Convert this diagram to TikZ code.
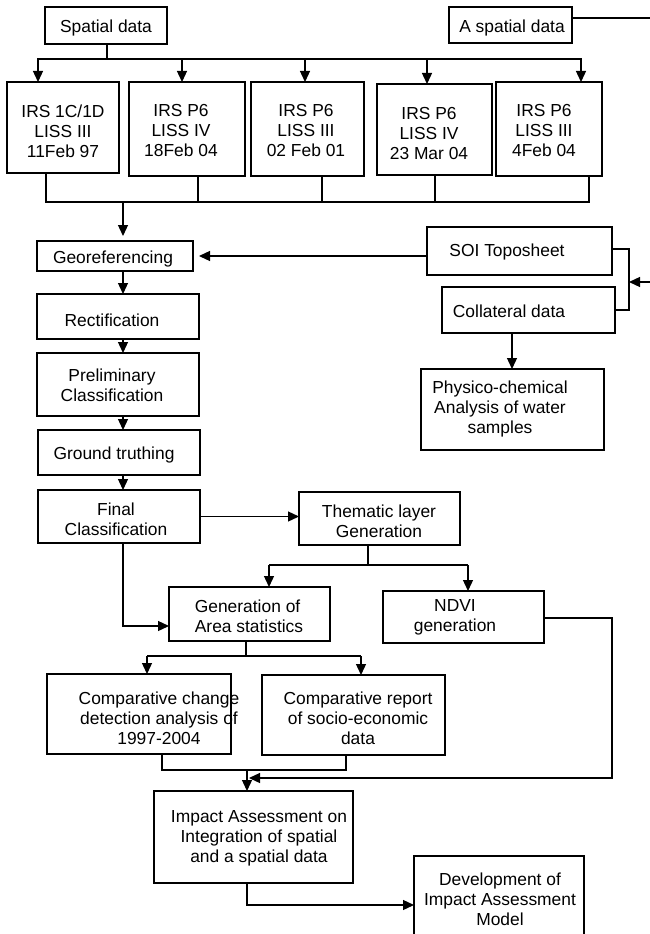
\documentclass[tikz,border=0pt]{standalone}
\usepackage{fontspec}
\setmainfont{Liberation Sans}
\usetikzlibrary{arrows.meta}
\newcommand\mybox[5]{\node[box, minimum width={#4-#2}, minimum height={#5-#3}] (#1) at ({(#2+#4)/2},{(#3+#5)/2}) {};}
\begin{document}
\begin{tikzpicture}[x=1pt,y=-1pt,
  box/.style={draw, line width=1.3pt, inner sep=0pt, outer sep=0pt},
  txt/.style={align=center, font=\fontsize{17.4}{20}\selectfont, inner sep=0pt, yshift=-3pt},
  line/.style={line width=1.3pt},
  arr/.style={line width=1.3pt, -{Triangle[length=11pt,width=10pt]}}]
\useasboundingbox (0,0) rectangle (650,934);
\fill[white] (0,0) rectangle (650,934);
\clip (0,0) rectangle (650,934);
% boxes
\mybox{sp}{45}{7}{167}{44}
\node[txt] (spT) at (sp) {Spatial data};
\mybox{asp}{449}{7}{572}{43}
\node[txt] (aspT) at (512,25) {A spatial data};
\mybox{irs1}{7}{82}{119}{173}
\node[txt] (irs1T) at (63,128) {IRS 1C/1D\\LISS III\\11Feb 97};
\mybox{irs2}{129}{82}{245}{176}
\node[txt] (irs2T) at (181,128) {IRS P6\\LISS IV\\18Feb 04};
\mybox{irs3}{251}{82}{364}{176}
\node[txt] (irs3T) at (306,128) {IRS P6\\LISS III\\02 Feb 01};
\mybox{irs4}{377}{84}{492}{175}
\node[txt] (irs4T) at (429,131) {IRS P6\\LISS IV\\23 Mar 04};
\mybox{irs5}{496}{82}{602}{176}
\node[txt] (irs5T) at (544,128) {IRS P6\\LISS III\\4Feb 04};
\mybox{geo}{37}{241}{193}{271}
\node[txt] (geoT) at (113,256) {Georeferencing};
\mybox{rect}{37}{294}{199}{339}
\node[txt] (rectT) at (112,317) {Rectification};
\mybox{pre}{37}{353}{199}{416}
\node[txt] (preT) at (112,382) {Preliminary\\Classification};
\mybox{gt}{38}{430}{200}{475}
\node[txt] (gtT) at (114,452) {Ground truthing};
\mybox{fin}{38}{490}{200}{543}
\node[txt] (finT) at (116,516) {Final\\Classification};
\mybox{them}{299}{492}{460}{545}
\node[txt] (themT) at (379,518) {Thematic layer\\Generation};
\mybox{gen}{169}{587}{330}{641}
\node[txt, align=left] (genT) at (249,613) {Generation of\\Area statistics};
\mybox{ndvi}{383}{591}{544}{643}
\node[txt] (ndviT) at (455,614) {NDVI\\generation};
\mybox{cmpA}{47}{674}{231}{754}
\node[txt] (cmpAT) at (159,715) {Comparative change\\detection analysis of\\1997-2004};
\mybox{cmpB}{262}{675}{445}{755}
\node[txt] (cmpBT) at (358,715) {Comparative report\\of socio-economic\\data};
\mybox{imp}{154}{791}{353}{883}
\node[txt] (impT) at (259,835) {Impact Assessment on\\Integration of spatial\\and a spatial data};
\mybox{dev}{414}{856}{584}{960}
\node[txt] (devT) at (500,896) {Development of\\Impact Assessment\\Model};
\mybox{soi}{427}{227}{612}{275}
\node[txt] (soiT) at (507,249) {SOI Toposheet};
\mybox{coll}{442}{287}{615}{333}
\node[txt] (collT) at (509,308) {Collateral data};
\mybox{phys}{421}{369}{604}{450}
\node[txt] (physT) at (500,406) {Physico-chemical\\Analysis of water\\samples};
% top bus
\coordinate (busL) at (37,59);
\coordinate (busR) at (582,59);
\coordinate (busS) at (107,59);
\draw[line] (busS |- sp.south) -- (busS);
\draw[line] (busL) -- (busR);
\coordinate (t1) at (38,59);
\coordinate (t2) at (182,59);
\coordinate (t3) at (305,59);
\coordinate (t4) at (427,59);
\coordinate (t5) at (581,59);
\draw[arr] (t1) -- (t1 |- irs1.north);
\draw[arr] (t2) -- (t2 |- irs2.north);
\draw[arr] (t3) -- (t3 |- irs3.north);
\draw[arr] (t4) -- (t4 |- irs4.north);
\draw[arr] (t5) -- (t5 |- irs5.north);
% bottom bus
\coordinate (b1) at (46,202);
\coordinate (b2) at (198,202);
\coordinate (b3) at (322,202);
\coordinate (b4) at (435,202);
\coordinate (b5) at (589,202);
\draw[line] (b1 |- irs1.south) -- (b1) -- (b5) -- (b5 |- irs5.south);
\draw[line] (b2 |- irs2.south) -- (b2);
\draw[line] (b3 |- irs3.south) -- (b3);
\draw[line] (b4 |- irs4.south) -- (b4);
\coordinate (bg) at (123,202);
\draw[arr, shorten >=5pt] (bg) -- (bg |- geo.north);
% left chain
\coordinate (cx) at (123,0);
\draw[arr] (cx |- geo.south) -- (cx |- rect.north);
\draw[arr] (cx |- rect.south) -- (cx |- pre.north);
\draw[arr] (cx |- pre.south) -- (cx |- gt.north);
\draw[arr] (cx |- gt.south) -- (cx |- fin.north);
% SOI -> geo
\draw[arr, shorten >=6pt] (soi.west |- geo.east) -- (geo.east);
% a spatial line
\coordinate (ae2) at (650,18);
\draw[line] (ae2 -| asp.east) -- (ae2);
% bracket
\coordinate (sb1) at (629,249);
\coordinate (sb2) at (629,310);
\draw[line] (sb1 -| soi.east) -- (sb1) -- (sb2) -- (sb2 -| coll.east);
\coordinate (ae) at (650,282);
\draw[arr] (ae) -- (ae -| sb1);
% coll -> phys
\coordinate (cp) at (512,0);
\draw[arr] (cp |- coll.south) -- (cp |- phys.north);
% final -> thematic
\draw[arr] (fin.east) -- (fin.east -| them.west);
% final -> gen
\coordinate (fg) at (123,626);
\draw[arr] (fg |- fin.south) -- (fg) -- (fg -| gen.west);
% thematic split
\coordinate (ts) at (368,565);
\coordinate (tsL) at (269,565);
\coordinate (tsR) at (468,565);
\draw[line] (ts |- them.south) -- (ts);
\draw[line] (tsL) -- (tsR);
\draw[arr] (tsL) -- (tsL |- gen.north);
\draw[arr] (tsR) -- (tsR |- ndvi.north);
% gen split
\coordinate (gs) at (246,656);
\coordinate (gsL) at (147,656);
\coordinate (gsR) at (361,656);
\draw[line] (gs |- gen.south) -- (gs);
\draw[line] (gsL) -- (gsR);
\draw[arr] (gsL) -- (gsL |- cmpA.north);
\draw[arr] (gsR) -- (gsR |- cmpB.north);
% bottom junction
\coordinate (j1) at (162,770);
\coordinate (j2) at (346,770);
\coordinate (jm) at (247,770);
\draw[line] (j1 |- cmpA.south) -- (j1) -- (j2) -- (j2 |- cmpB.south);
\draw[arr] (jm) -- (jm |- imp.north);
% ndvi line
\coordinate (nd1) at (612,618);
\coordinate (nd2) at (612,778);
\coordinate (nd3) at (249,778);
\draw[arr] (nd1 -| ndvi.east) -- (nd1) -- (nd2) -- (nd3);
% impact -> dev
\coordinate (id) at (247,905);
\draw[arr] (id |- imp.south) -- (id) -- (id -| dev.west);
\end{tikzpicture}
\end{document}
